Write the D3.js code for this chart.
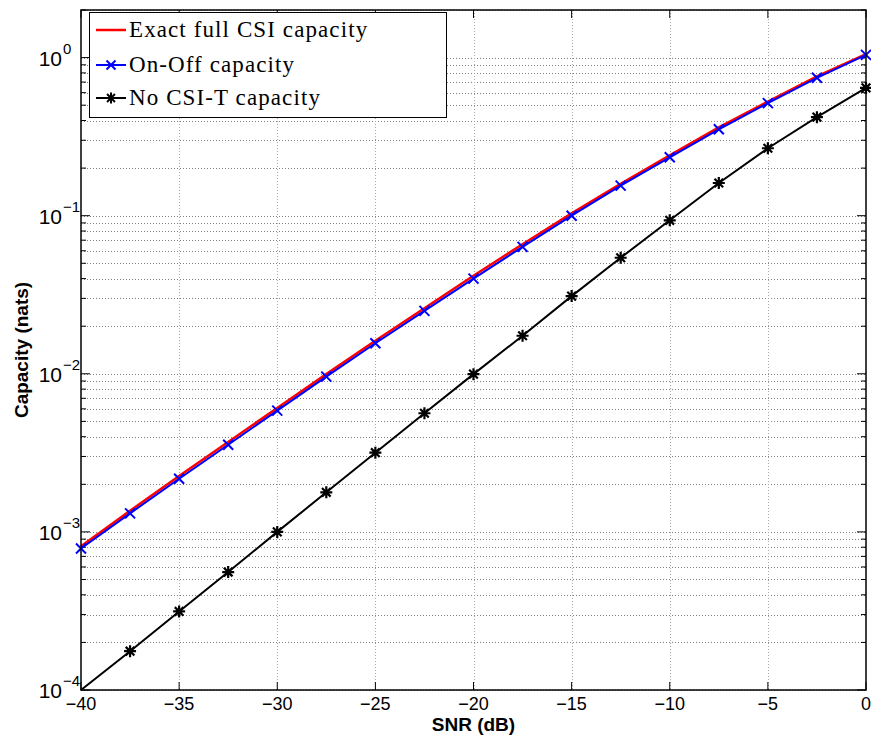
<!DOCTYPE html>
<html>
<head>
<meta charset="utf-8">
<script src="https://cdn.jsdelivr.net/npm/d3@7"></script>
<style>
  body { margin: 0; background: #fff; }
  svg { display: block; }
</style>
</head>
<body>
<svg id="chart" width="871" height="740"></svg>
<script>
// SNR grid (dB)
var snrDb = [-40, -37.5, -35, -32.5, -30, -27.5, -25, -22.5, -20, -17.5, -15, -12.5, -10, -7.5, -5, -2.5, 0];

// capacities (nats)
var exactFullCsi = [8.1e-4, 1.36e-3, 2.26e-3, 3.7e-3, 6.08e-3, 9.95e-3, 1.62e-2, 2.6e-2, 4.17e-2, 6.6e-2, 0.1035, 0.159, 0.241, 0.362, 0.527, 0.76, 1.05];
var onOff = [7.85e-4, 1.31e-3, 2.17e-3, 3.56e-3, 5.85e-3, 9.6e-3, 1.56e-2, 2.5e-2, 4.0e-2, 6.35e-2, 0.1, 0.155, 0.234, 0.352, 0.515, 0.745, 1.04];
var noCsiT = [1e-4, 1.76e-4, 3.14e-4, 5.57e-4, 1e-3, 1.78e-3, 3.17e-3, 5.63e-3, 9.95e-3, 1.74e-2, 3.1e-2, 5.42e-2, 9.35e-2, 0.161, 0.267, 0.42, 0.643];

var xTicks = [-40, -35, -30, -25, -20, -15, -10, -5, 0];
var yExponents = [-4, -3, -2, -1, 0];
var legendLabels = ["Exact full CSI capacity", "On-Off capacity", "No CSI-T capacity"];

var pLeft = 81, pRight = 866, pTop = 10, pBottom = 690;

var svg = d3.select("#chart");

var x = d3.scaleLinear().domain([-40, 0]).range([pLeft, pRight]);
var y = d3.scaleLog().domain([1e-4, 2]).range([pBottom, pTop]);

// minor log values
var minorVals = [];
for (var e = -4; e <= 0; e++) {
    for (var m = 2; m <= 9; m++) {
        var v = m * Math.pow(10, e);
        if (v <= 2) minorVals.push(v);
    }
}
var majorVals = yExponents.map(function(e) { return Math.pow(10, e); });

var grid = svg.append("g").attr("class", "grid")
    .attr("stroke", "#808080").attr("stroke-width", 1).attr("stroke-dasharray", "1,2");

grid.selectAll(".hgrid")
    .data(majorVals.concat(minorVals))
    .enter().append("line")
    .attr("x1", pLeft).attr("x2", pRight)
    .attr("y1", function(d) { return Math.round(y(d)) + 0.5; })
    .attr("y2", function(d) { return Math.round(y(d)) + 0.5; });

grid.selectAll(".vgrid")
    .data(xTicks.slice(1, -1))
    .enter().append("line")
    .attr("stroke", "#a8a8a8")
    .attr("y1", pTop).attr("y2", pBottom)
    .attr("x1", function(d) { return Math.round(x(d)) + 0.5; })
    .attr("x2", function(d) { return Math.round(x(d)) + 0.5; });

// ticks (inside, on all four sides)
var ticks = svg.append("g").attr("stroke", "#000").attr("stroke-width", 1);
xTicks.forEach(function(t) {
    var px = x(t);
    ticks.append("line").attr("x1", px).attr("x2", px).attr("y1", pBottom).attr("y2", pBottom - 8);
    ticks.append("line").attr("x1", px).attr("x2", px).attr("y1", pTop).attr("y2", pTop + 8);
});
majorVals.forEach(function(v) {
    var py = y(v);
    ticks.append("line").attr("x1", pLeft).attr("x2", pLeft + 9).attr("y1", py).attr("y2", py);
    ticks.append("line").attr("x1", pRight).attr("x2", pRight - 9).attr("y1", py).attr("y2", py);
});
minorVals.forEach(function(v) {
    var py = y(v);
    ticks.append("line").attr("x1", pLeft).attr("x2", pLeft + 5).attr("y1", py).attr("y2", py);
    ticks.append("line").attr("x1", pRight).attr("x2", pRight - 5).attr("y1", py).attr("y2", py);
});

// tick labels
svg.append("g").selectAll("text")
    .data(xTicks)
    .enter().append("text")
    .attr("x", function(d) { return x(d); })
    .attr("y", 710)
    .attr("text-anchor", "middle")
    .attr("font-family", "Liberation Sans, Arial, sans-serif")
    .attr("font-size", 18)
    .text(function(d) { return d < 0 ? "\u2212" + Math.abs(d) : d; });

var yLab = svg.append("g").attr("font-family", "Liberation Sans, Arial, sans-serif");
yExponents.forEach(function(e) {
    var py = y(Math.pow(10, e));
    yLab.append("text").attr("x", 62).attr("y", py + 8).attr("text-anchor", "end")
        .attr("font-size", 21).text("10");
    yLab.append("text").attr("x", 63).attr("y", py - 4)
        .attr("font-size", 15).text(e < 0 ? "\u2212" + Math.abs(e) : e);
});

// axis titles
svg.append("text")
    .attr("x", (pLeft + pRight) / 2).attr("y", 731)
    .attr("text-anchor", "middle")
    .attr("font-family", "Liberation Sans, Arial, sans-serif")
    .attr("font-weight", "bold").attr("font-size", 19)
    .text("SNR (dB)");

svg.append("text")
    .attr("transform", "translate(28," + ((pTop + pBottom) / 2) + ") rotate(-90)")
    .attr("text-anchor", "middle")
    .attr("font-family", "Liberation Sans, Arial, sans-serif")
    .attr("font-weight", "bold").attr("font-size", 19)
    .text("Capacity (nats)");

// data
var plot = svg.append("g");
var line = d3.line()
    .x(function(d) { return x(d[0]); })
    .y(function(d) { return y(d[1]); });

function pairs(vals) { return snrDb.map(function(s, i) { return [s, vals[i]]; }); }

plot.append("path").datum(pairs(exactFullCsi))
    .attr("d", line).attr("fill", "none").attr("stroke", "#ff0000").attr("stroke-width", 2.5);
plot.append("path").datum(pairs(onOff))
    .attr("d", line).attr("fill", "none").attr("stroke", "#0000ff").attr("stroke-width", 2);
plot.append("path").datum(pairs(noCsiT))
    .attr("d", line).attr("fill", "none").attr("stroke", "#000").attr("stroke-width", 2);

function crossPath(s) {
    return "M" + (-s) + "," + (-s) + "L" + s + "," + s + "M" + (-s) + "," + s + "L" + s + "," + (-s);
}
function starPath(s) {
    var d = "M0," + (-s) + "V" + s + "M" + (-s) + ",0H" + s;
    var k = s * 0.72;
    d += "M" + (-k) + "," + (-k) + "L" + k + "," + k + "M" + (-k) + "," + k + "L" + k + "," + (-k);
    return d;
}

plot.selectAll(".mx").data(pairs(onOff))
    .enter().append("path")
    .attr("transform", function(d) { return "translate(" + x(d[0]) + "," + y(d[1]) + ")"; })
    .attr("d", crossPath(5)).attr("stroke", "#0000ff").attr("stroke-width", 2).attr("fill", "none");

plot.selectAll(".ms").data(pairs(noCsiT).slice(1))
    .enter().append("path")
    .attr("transform", function(d) { return "translate(" + x(d[0]) + "," + y(d[1]) + ")"; })
    .attr("d", starPath(6)).attr("stroke", "#000").attr("stroke-width", 2.2).attr("fill", "none");

// axes box
svg.append("rect")
    .attr("x", pLeft).attr("y", pTop).attr("width", pRight - pLeft).attr("height", pBottom - pTop)
    .attr("fill", "none").attr("stroke", "#000").attr("stroke-width", 1.5);

// legend
var lg = svg.append("g");
lg.append("rect").attr("x", 89.5).attr("y", 12.5).attr("width", 357).attr("height", 105)
    .attr("fill", "#fff").attr("stroke", "#000").attr("stroke-width", 1);
var rowsY = [30, 65, 98];
var colors = ["#ff0000", "#0000ff", "#000"];
legendLabels.forEach(function(lbl, i) {
    var ry = rowsY[i];
    lg.append("line").attr("x1", 96).attr("x2", 126).attr("y1", ry).attr("y2", ry)
        .attr("stroke", colors[i]).attr("stroke-width", i === 0 ? 2.5 : 2);
    if (i === 1) {
        lg.append("path").attr("transform", "translate(111," + ry + ")")
            .attr("d", crossPath(4.5)).attr("stroke", colors[i]).attr("stroke-width", 2);
    }
    if (i === 2) {
        lg.append("path").attr("transform", "translate(111," + ry + ")")
            .attr("d", starPath(5.5)).attr("stroke", colors[i]).attr("stroke-width", 2);
    }
    lg.append("text").attr("x", 129).attr("y", ry + 7)
        .attr("font-family", "Liberation Serif, Times New Roman, serif")
        .attr("font-size", 23)
        .attr("letter-spacing", 1.1)
        .text(lbl);
});
</script>
</body>
</html>
